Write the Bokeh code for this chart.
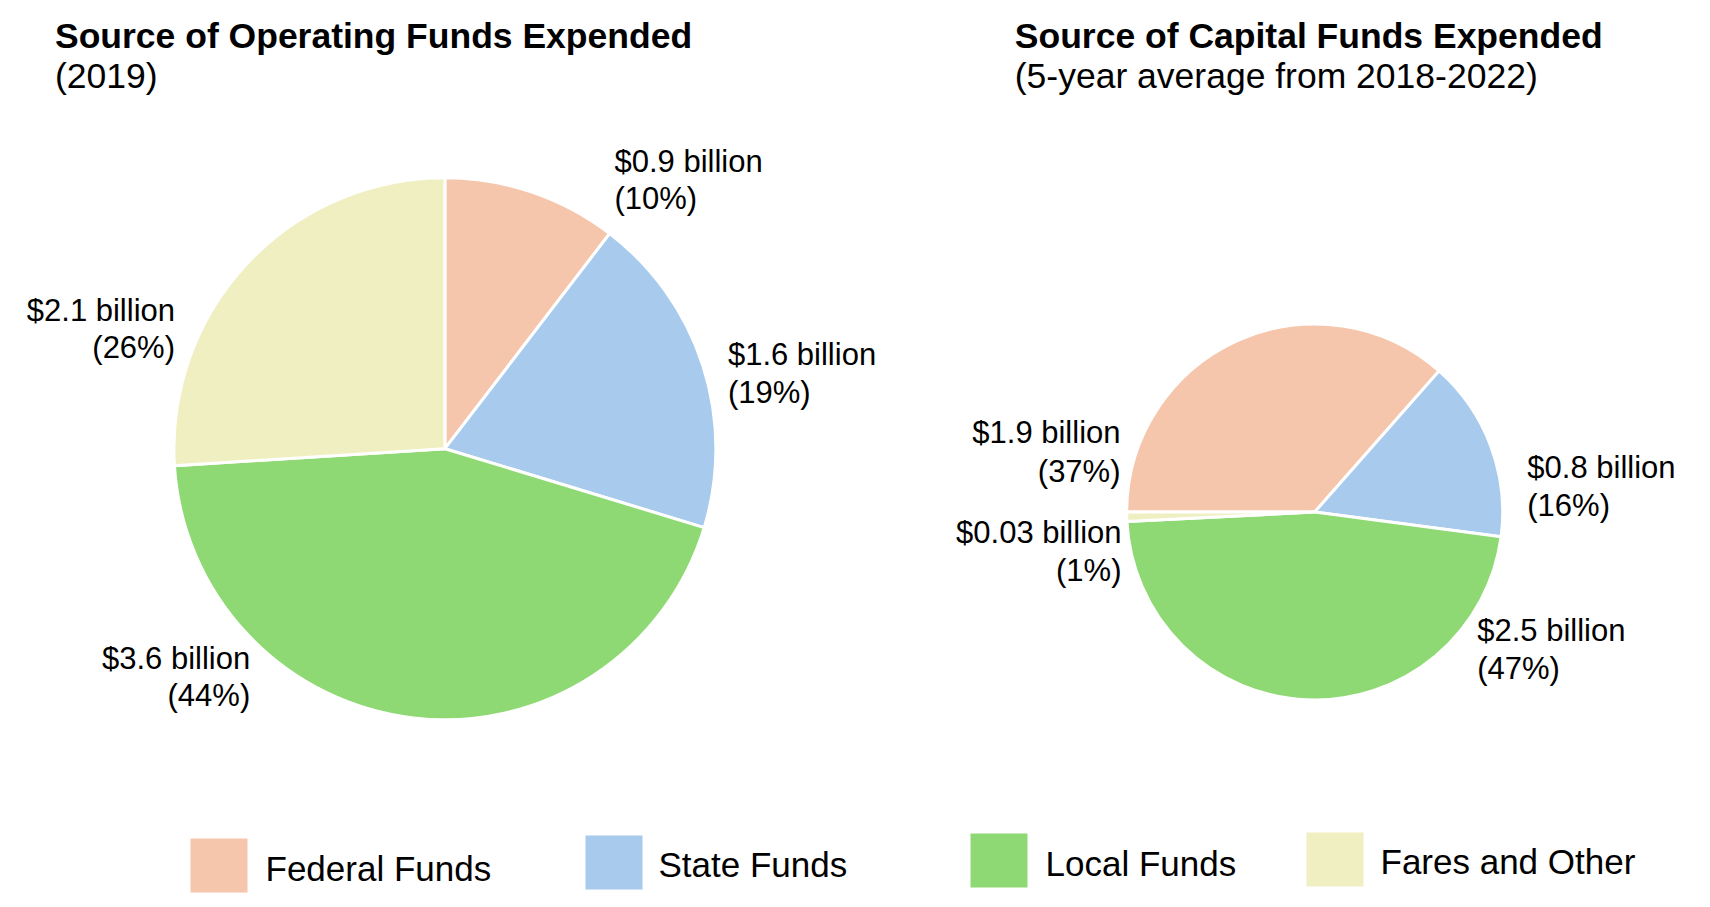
import math
from bokeh.plotting import figure
from bokeh.models import Range1d, ColumnDataSource
from bokeh.core.properties import value
from bokeh.embed import file_html
from bokeh.resources import INLINE

# ---------------- data ----------------
categories = ["Federal Funds", "State Funds", "Local Funds", "Fares and Other"]
colors = ["#F5C6AB", "#A8CAEC", "#8FD974", "#F0EFC2"]

op_title = "Source of Operating Funds Expended"
op_subtitle = "(2019)"
op_share = [10.4, 19.3, 44.3, 26.0]          # percent of pie
op_amount = ["$0.9 billion", "$1.6 billion", "$3.6 billion", "$2.1 billion"]
op_pct = ["(10%)", "(19%)", "(44%)", "(26%)"]

cap_title = "Source of Capital Funds Expended"
cap_subtitle = "(5-year average from 2018-2022)"
cap_share = [36.5, 15.6, 47.1, 0.8]
cap_amount = ["$1.9 billion", "$0.8 billion", "$2.5 billion", "$0.03 billion"]
cap_pct = ["(37%)", "(16%)", "(47%)", "(1%)"]

# ---------------- layout ----------------
W, H = 1694, 899
FONT = "Liberation Sans"

def px(x):  # page x -> data x
    return x

def py(y):  # page y -> data y (y axis up)
    return H - y

p = figure(width=W, height=H, output_backend="svg", toolbar_location=None,
           x_range=Range1d(0, W), y_range=Range1d(0, H), min_border=0)
p.axis.visible = False
p.grid.visible = False
p.outline_line_color = None
p.background_fill_color = "white"
p.border_fill_color = "white"


def draw_pie(shares, cx, cy, r, start_deg):
    total = sum(shares)
    starts, ends = [], []
    cum = 0.0
    for s in shares:
        a0 = math.radians(start_deg - 360.0 * cum / total)
        cum += s
        a1 = math.radians(start_deg - 360.0 * cum / total)
        starts.append(a0)
        ends.append(a1)
    src = ColumnDataSource(dict(x=[px(cx)] * len(shares), y=[py(cy)] * len(shares),
                                start=starts, end=ends, color=colors, cat=categories))
    p.wedge(x="x", y="y", radius=r, radius_units="screen", start_angle="start",
            end_angle="end", direction="clock", fill_color="color",
            line_color="white", line_width=3, source=src)


# pies
draw_pie(op_share, 444.4, 448.2, 271, 90)
draw_pie(cap_share, 1314.2, 511.5, 188, 180)


def label(x, y, txt, align, size="31px", bold=False):
    p.text(x=[px(x)], y=[py(y)], text=[txt], text_align=align,
           text_baseline="middle", text_font=value(FONT),
           text_font_size=size, text_font_style="bold" if bold else "normal",
           text_color="black")


# titles
label(54.5, 35, op_title, "left", "35.5px", True)
label(54.5, 75, op_subtitle, "left", "35.5px")
label(1014.3, 35, cap_title, "left", "35.5px", True)
label(1014.3, 75, cap_subtitle, "left", "35.5px")

# slice labels (page positions): (x, centre line1, centre line2, align)
op_label_pos = [(614, 161, 198, "left"), (727.4, 354.4, 391.5, "left"),
                (249.7, 657.6, 694.7, "right"), (174.5, 309.7, 347, "right")]
for (x, y1, y2, al), a, pc in zip(op_label_pos, op_amount, op_pct):
    label(x, y1, a, al)
    label(x, y2, pc, al)

cap_label_pos = [(1120, 432, 471, "right"), (1526.8, 466.8, 505, "left"),
                 (1476.7, 630.4, 668, "left"), (1121, 531.5, 570, "right")]
for (x, y1, y2, al), a, pc in zip(cap_label_pos, cap_amount, cap_pct):
    label(x, y1, a, al)
    label(x, y2, pc, al)

# legend
leg_swatch = [(190, 838), (585, 835), (970, 833), (1306, 832)]
leg_text = [(265, 867.5), (658, 864), (1045, 863), (1380, 860.5)]
for (sx, sy), (tx, ty), c, name in zip(leg_swatch, leg_text, colors, categories):
    p.quad(left=[px(sx)], right=[px(sx + 57)], top=[py(sy)], bottom=[py(sy + 54)],
           fill_color=c, line_color=None)
    label(tx, ty, name, "left", "35px")

open("out.html", "w").write(file_html(p, INLINE))
